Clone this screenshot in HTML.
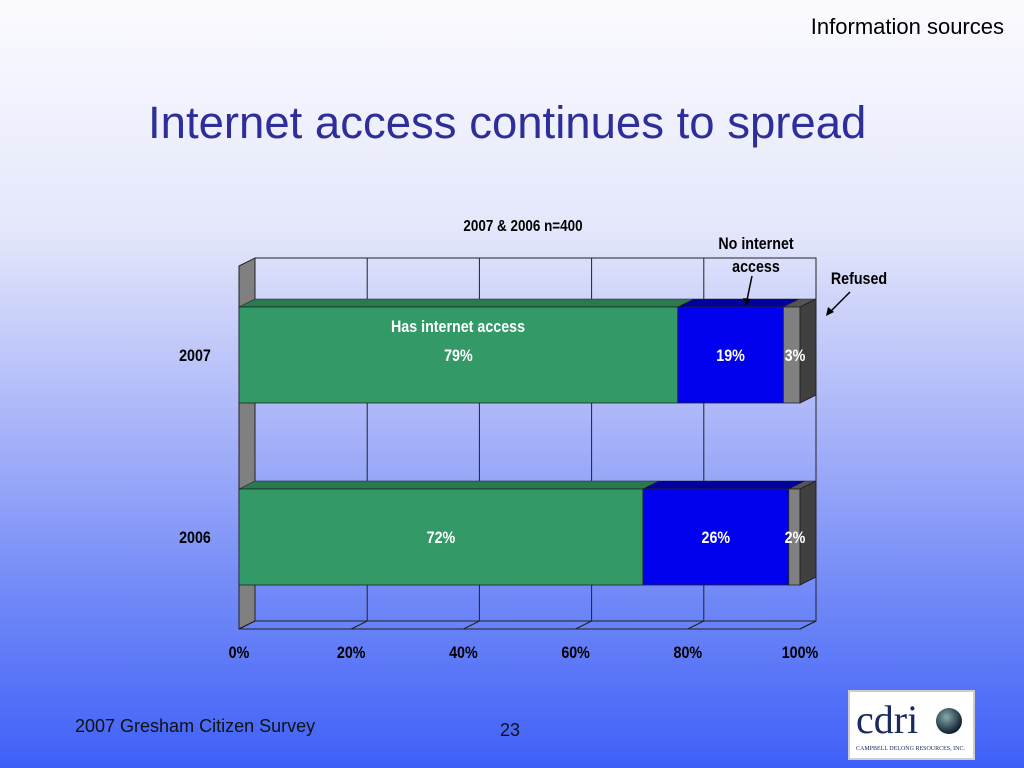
<!DOCTYPE html>
<html><head><meta charset="utf-8"><style>
body{margin:0;width:1024px;height:768px;overflow:hidden;background:linear-gradient(to bottom,#fbfbff 0%,#e4e7fb 30%,#aab5f9 55%,#7088f7 78%,#3e60f8 100%);font-family:"Liberation Sans",sans-serif;position:relative}
.t{position:absolute;white-space:nowrap}
</style></head><body>
<div class="t" style="right:20px;top:14px;font-size:22px;color:#000">Information sources</div>
<div class="t" style="left:148px;top:97px;font-size:45.5px;color:#2e2e9a">Internet access continues to spread</div>
<div class="t" style="left:75px;top:716px;font-size:18px;color:#111">2007 Gresham Citizen Survey</div>
<div class="t" style="left:500px;top:720px;font-size:18px;color:#111">23</div>
<div style="position:absolute;left:848px;top:690px;width:127px;height:70px;background:#fff;border:2px solid #ccc;box-sizing:border-box">
<div style="position:absolute;left:6px;top:4px;font-family:'Liberation Serif',serif;font-size:40px;color:#1a2a60;line-height:48px">cdri</div>
<div style="position:absolute;left:86px;top:16px;width:26px;height:26px;border-radius:50%;background:radial-gradient(circle at 40% 35%,#8aa,#123 70%)"></div>
<div style="position:absolute;left:6px;top:54px;font-family:'Liberation Serif',serif;font-size:6px;color:#1a2a60">CAMPBELL DELONG RESOURCES, INC.</div>
</div>
<svg id="chart" width="1024" height="768" style="position:absolute;left:0;top:0"></svg>
<script>
const categories=["2007","2006"];
const hasAccess=[79,72];
const noAccess=[19,26];
const refused=[3,2];
const ticks=[0,20,40,60,80,100];
const tickLabels=["0%","20%","40%","60%","80%","100%"];
const svg=document.getElementById('chart');
const NS="http://www.w3.org/2000/svg";
const X0=239,X1=800,DX=16,DY=8,YTOP=258,YBOT=629;
const xs=v=>X0+(X1-X0)*v/100;
const ys=i=>[307,489][i];
const BH=96;
const FONT='"Liberation Sans",sans-serif';
function mk(tag,a,p){const e=document.createElementNS(NS,tag);for(const k in a)e.setAttribute(k,a[k]);(p||svg).appendChild(e);return e;}
function txt(s,x,y,sz,col,anchor){const e=mk('text',{x:x,y:y,'font-size':sz,fill:col,'font-weight':'bold','font-family':FONT,'text-anchor':anchor||'middle',transform:`translate(${x},0) scale(0.84,1) translate(${-x},0)`});e.textContent=s;return e;}
const wall=mk('rect',{x:X0+DX,y:YTOP,width:X1-X0,height:YBOT-DY-YTOP,fill:'none',stroke:'#222','stroke-width':1});


const lw=mk('polygon',{points:`${X0},${YTOP+DY} ${X0+DX},${YTOP} ${X0+DX},${YBOT-DY} ${X0},${YBOT}`,fill:'#808080',stroke:'#222'});


const fl=mk('polygon',{points:`${X0},${YBOT} ${X0+DX},${YBOT-DY} ${X1+DX},${YBOT-DY} ${X1},${YBOT}`,fill:'none',stroke:'#222'});


ticks.forEach((t,i)=>{
  const x=xs(t);
  if(i>0){const g=mk('line',{x1:x+DX,y1:YTOP,x2:x+DX,y2:YBOT-DY,stroke:'#222','stroke-width':1});
  
  }
  mk('line',{x1:x,y1:YBOT,x2:x+DX,y2:YBOT-DY,stroke:'#222'});
  const l=txt(tickLabels[i],x,658,17,'#000');
  
  
});
const series=[[hasAccess,'#339966','#2a7a50','has-access'],[noAccess,'#0000ee','#0000a0','no-access'],[refused,'#808080','#555','refused']];
categories.forEach((c,i)=>{
  const tot=hasAccess[i]+noAccess[i]+refused[i];
  let acc=0;const y=ys(i);
  series.forEach(([arr,col,dark,nm])=>{
    const v=arr[i]/tot*100;const xa=xs(acc),xb=xs(acc+v);
    const top=mk('polygon',{points:`${xa},${y} ${xa+DX},${y-DY} ${xb+DX},${y-DY} ${xb},${y}`,fill:dark,stroke:'#222','stroke-width':0.6});
    
    
    const r=mk('rect',{x:xa,y:y,width:xb-xa,height:BH,fill:col,stroke:'#222','stroke-width':0.8});
    
    
    acc+=v;
  });
  const xe=xs(acc);
  const side=mk('polygon',{points:`${xe},${y} ${xe+DX},${y-DY} ${xe+DX},${y+BH-DY} ${xe},${y+BH}`,fill:'#404040',stroke:'#222'});
  
  
  const cl=txt(c,195,y+54,17,'#000');
  
  
  const g=hasAccess[i]/tot*100,n=noAccess[i]/tot*100;
  const a=txt(hasAccess[i]+'%',xs(g/2),y+54,17,'#fff');
  
  
  const b=txt(noAccess[i]+'%',xs(g+n/2),y+54,17,'#fff');
  
  
  const d=txt(refused[i]+'%',795,y+54,17,'#fff');
  
  
});
const h=txt('Has internet access',458,332,17,'#fff');


const st=txt('2007 & 2006 n=400',523,231,16,'#000');


const n1=txt('No internet',756,249,17,'#000');


const n2=txt('access',756,272,17,'#000');


const rf=txt('Refused',859,284,17,'#000');


mk('line',{x1:752,y1:276,x2:747,y2:300,stroke:'#000','stroke-width':1.5});
mk('polygon',{points:'743,298 751,299 746,306',fill:'#000'});
mk('line',{x1:850,y1:292,x2:830,y2:312,stroke:'#000','stroke-width':1.5});
mk('polygon',{points:'826,316 828,307 834,312',fill:'#000'});
</script>
</body></html>
